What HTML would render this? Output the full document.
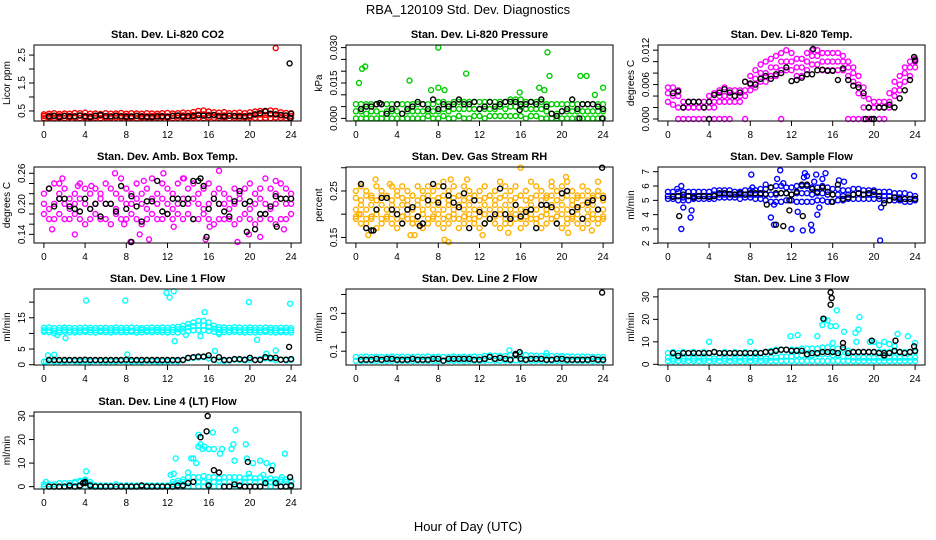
<!DOCTYPE html>
<html><head><meta charset="utf-8"><style>
html,body{margin:0;padding:0;background:#fff;}
svg{display:block;font-family:"Liberation Sans",sans-serif;}
</style></head><body>
<svg id="chart" width="936" height="540" viewBox="0 0 936 540">
<text x="468" y="14" text-anchor="middle" font-size="13">RBA_120109  Std. Dev. Diagnostics</text>
<text x="468" y="531" text-anchor="middle" font-size="13">Hour of Day (UTC)</text>
</svg>
<script>
const H=[0,0.5,1,1.5,2,2.5,3,3.5,4,4.5,5,5.5,6,6.5,7,7.5,8,8.5,9,9.5,10,10.5,11,11.5,12,12.5,13,13.5,14,14.5,15,15.5,16,16.5,17,17.5,18,18.5,19,19.5,20,20.5,21,21.5,22,22.5,23,23.5,24];
const xTicks=[0,4,8,12,16,20,24];

// Panel 1 CO2
const co2Lo=[.24,.25,.23,.25,.24,.26,.25,.24,.25,.23,.25,.24,.25,.24,.26,.25,.24,.25,.23,.25,.24,.25,.24,.26,.25,.24,.25,.26,.24,.25,.25,.24,.26,.25,.24,.25,.23,.25,.24,.25,.26,.25,.24,.25,.24,.26,.25,.24,.25];
const co2Mid=[.32,.33,.31,.32,.33,.32,.31,.33,.32,.31,.32,.33,.32,.31,.33,.32,.32,.31,.33,.32,.31,.32,.33,.32,.31,.33,.32,.34,.33,.35,.37,.38,.36,.34,.33,.34,.33,.32,.33,.32,.34,.36,.37,.36,.38,.37,.34,.33,.32];
const co2Hi=[.38,.40,.42,.39,.41,.40,.43,.42,.44,.40,.41,.39,.42,.40,.41,.43,.40,.42,.41,.40,.42,.41,.40,.42,.43,.41,.42,.44,.43,.46,.50,.52,.48,.45,.44,.46,.42,.43,.44,.42,.45,.48,.50,.48,.52,.50,.45,.43,.42];
const co2Out=[[22.5,2.75]];
const co2Black=[null,.30,.33,.28,.32,.30,.31,.34,.30,.28,.33,.36,.31,.30,.33,.31,.29,.30,.32,.30,.29,.28,.30,.31,.29,.32,.34,.30,.31,.32,.35,.33,.34,.36,.31,.30,.33,.32,.31,.30,.33,.38,.42,.50,.40,.38,.36,.34,.40];
const co2BlackOut=[[23.85,2.2],[23.9,0.25]];

// Panel 2 Pressure
const pLo=[0,0,0,0,0,0,0,0,0,0,0,0,0,0,.001,0,0,.001,0,0,.001,0,0,.001,.001,0,.001,.001,.001,.001,.001,.001,.001,0,.001,.001,0,0,0,0,0,0,0,0,0,0,0,0,0];
const pMid=[.003,.003,.002,.003,.003,.002,.003,.003,.003,.002,.003,.003,.003,.003,.003,.003,.003,.004,.003,.004,.004,.004,.004,.004,.004,.004,.004,.004,.005,.004,.005,.005,.005,.004,.004,.004,.004,.003,.002,.002,.003,.003,.003,.003,.003,.003,.003,.003,.003];
const pHi=[.006,.006,.006,.006,.006,.006,.006,.006,.006,.006,.006,.006,.006,.006,.006,.006,.007,.007,.006,.007,.007,.007,.007,.007,.007,.007,.007,.007,.007,.007,.008,.008,.008,.007,.007,.007,.007,.006,.006,.006,.006,.006,.006,.006,.006,.006,.006,.006,.006];
const pOut=[[0.3,0.015],[0.6,0.021],[0.9,0.022],[5.2,0.016],[7.3,0.012],[8.0,0.030],[8.0,0.013],[8.6,0.012],[10.7,0.019],[15.9,0.011],[17.8,0.013],[18.3,0.012],[18.6,0.028],[18.8,0.018],[21.8,0.018],[22.4,0.018],[23.2,0.010],[24,0.013]];
const pBlack=[null,.004,.005,.005,.006,.006,.002,.004,.006,.002,.004,.005,.007,.006,.004,.008,.004,.006,.005,.006,.008,.006,.006,.007,.004,.005,.007,.005,.006,.007,.007,.007,.006,.006,.007,.006,.008,.005,.002,.001,.003,.004,.008,.004,.006,.006,.006,.005,.004];
const pBlackOut=[[21.7,0],[23.9,0],[2.3,0.0065],[15.9,0.0035]];

// Panel 3 Li-820 Temp
const tMid=[.0045,.004,.004,.002,.002,.002,.002,.002,.003,.003,.004,.004,.004,.004,.004,.005,.006,.007,.008,.008,.009,.009,.010,.010,.010,.009,.009,.010,.011,.011,.010,.010,.010,.010,.010,.009,.008,.006,.004,.002,.002,.002,.002,.003,.005,.006,.008,.009,.010];
const tHi=[.0055,.0055,.005,.003,.003,.003,.003,.003,.004,.0045,.005,.0055,.005,.005,.005,.0065,.0075,.0085,.0095,.010,.0105,.011,.0115,.012,.0115,.0105,.0105,.0115,.012,.012,.0115,.0115,.0115,.0115,.011,.010,.009,.0075,.0055,.0035,.003,.003,.003,.0045,.0065,.0075,.009,.010,.0105];
const tLo=[.003,.0025,.002,.002,.002,.002,.002,.002,.002,.002,.003,.003,.003,.003,.003,.004,.005,.0055,.0065,.0065,.0075,.0075,.0085,.0085,.0085,.0075,.0075,.0085,.0095,.0095,.0085,.0085,.0085,.0085,.0085,.0075,.0065,.0045,.002,.002,.002,.002,.002,.002,.004,.005,.0065,.0075,.009];
const tZero=[null,null,0,0,0,0,0,0,0,0,0,0,0,null,null,0,null,null,null,null,null,null,0,null,null,null,null,null,null,null,null,null,null,null,null,0,0,0,0,0,0,0,0,null,null,null,null,null,null];
const tBlack=[null,.0045,.0048,.002,.003,.003,.003,.002,.003,.0042,.0046,.0052,.0046,.004,.0046,.0065,.0062,.006,.007,.0075,.007,.0078,.008,.009,.0066,.0068,.0072,.0078,.0078,.0085,.0086,.0084,.0084,.0068,.0088,.0068,.0058,.0055,.0045,.002,0,.002,.002,.0025,.002,.0036,.005,.0068,.0102];
const tBlackOut=[[4,0],[19.2,0],[19.8,0],[14.1,0.0122],[23.9,0.0108]];

// Panel 4 Amb box temp
const ambHi=[.22,.23,.24,.22,.23,.21,.22,.24,.23,.22,.23,.22,.24,.23,.22,.25,.23,.22,.24,.22,.23,.25,.22,.24,.23,.22,.24,.25,.23,.24,.22,.23,.24,.22,.23,.22,.21,.23,.22,.23,.24,.22,.23,.25,.23,.22,.24,.23,.22];
const ambMid=[.20,.19,.20,.21,.20,.19,.20,.21,.20,.19,.20,.21,.20,.20,.19,.21,.20,.20,.21,.20,.19,.21,.20,.21,.20,.19,.20,.21,.20,.21,.20,.19,.20,.21,.20,.20,.19,.20,.21,.20,.19,.20,.21,.20,.19,.20,.21,.20,.20];
const ambLo=[.18,.17,.17,.18,.17,.17,.18,.17,.16,.17,.18,.17,.17,.16,.18,.17,.17,.18,.17,.16,.17,.18,.17,.17,.18,.17,.18,.17,.18,.17,.17,.18,.17,.16,.17,.17,.17,.16,.17,.18,.17,.16,.17,.18,.17,.16,.17,.17,.18];
const ambOut=[[0.8,0.15],[1.5,0.24],[1.8,0.25],[3,0.14],[3.3,0.235],[4.6,0.235],[6.9,0.26],[7.8,0.16],[8.4,0.125],[9.3,0.14],[9.7,0.245],[10.2,0.13],[11.6,0.26],[12.6,0.155],[13.6,0.25],[15.7,0.13],[16.1,0.155],[17,0.265],[18.8,0.125],[19.9,0.14],[21,0.135],[22.5,0.245],[23.3,0.15]];
const ambBlack=[null,.23,.195,.21,.21,.195,.19,.185,.21,.19,.20,.175,.20,.20,.185,.235,.19,.215,.195,.165,.205,.205,.245,.185,.18,.21,.21,.20,.21,.17,.245,.235,.19,.21,.20,.185,.175,.205,.225,.20,.205,.15,.18,.18,.195,.215,.21,.21,.21];
const ambBlackOut=[[8.5,0.125],[15.8,0.135],[19.7,0.145],[22.6,0.155],[14.5,0.245],[15.2,0.25]];

// Panel 5 Gas stream RH
const rhHi=[.25,.26,.25,.24,.26,.25,.24,.26,.25,.26,.25,.24,.26,.25,.26,.25,.26,.27,.25,.26,.24,.26,.25,.24,.25,.26,.24,.25,.27,.26,.25,.26,.24,.25,.27,.26,.25,.24,.26,.25,.26,.27,.25,.24,.26,.25,.24,.25,.24];
const rhQ3=[.235,.23,.24,.235,.23,.24,.235,.23,.24,.235,.23,.24,.23,.235,.24,.23,.235,.24,.23,.235,.24,.23,.235,.24,.23,.235,.24,.23,.235,.24,.23,.235,.24,.23,.235,.24,.23,.235,.24,.23,.235,.24,.23,.235,.24,.23,.235,.24,.23];
const rhMid=[.21,.22,.21,.22,.21,.22,.21,.22,.21,.22,.22,.21,.22,.21,.22,.21,.22,.21,.22,.21,.22,.21,.22,.21,.21,.22,.21,.22,.21,.22,.21,.22,.21,.21,.22,.21,.22,.21,.22,.21,.22,.21,.22,.21,.22,.21,.22,.21,.21];
const rhQ1=[.195,.2,.19,.195,.2,.19,.195,.2,.19,.195,.2,.19,.195,.2,.19,.195,.2,.19,.195,.2,.19,.195,.2,.19,.195,.2,.19,.195,.2,.19,.195,.2,.19,.195,.2,.19,.195,.2,.19,.195,.2,.19,.195,.2,.19,.195,.2,.19,.195];
const rhLo=[.19,.18,.18,.19,.17,.18,.19,.18,.17,.18,.19,.18,.18,.17,.18,.19,.18,.17,.18,.19,.17,.18,.19,.18,.17,.18,.19,.18,.17,.18,.18,.19,.17,.18,.19,.18,.17,.18,.19,.18,.17,.18,.19,.18,.17,.18,.19,.18,.19];
const rhOut=[[0.3,0.2],[1.2,0.155],[1.9,0.275],[3.3,0.265],[5.3,0.155],[5.7,0.155],[8.6,0.145],[9.0,0.14],[9.2,0.275],[10.8,0.275],[12.3,0.155],[14.8,0.16],[16.0,0.3],[19.0,0.27],[20.4,0.28],[20.6,0.16],[22.9,0.165],[23.5,0.27]];
const rhBlack=[null,.265,.17,.165,.21,.235,.235,.21,.2,.18,.21,.215,.195,.18,.23,.265,.225,.26,.24,.225,.215,.245,.17,.23,.205,.18,.19,.2,.255,.2,.19,.22,.195,.205,.21,.17,.22,.22,.215,.18,.245,.25,.205,.215,.19,.225,.23,.21,.235];
const rhBlackOut=[[23.9,0.30],[1.7,0.165],[6.2,0.175]];

// Panel 6 Sample flow
const sfHi=[5.6,5.6,5.6,5.6,5.6,5.6,5.6,5.6,5.6,5.7,5.7,5.7,5.7,5.6,5.6,5.7,5.7,5.7,5.8,5.8,5.9,6.0,6.0,5.9,5.9,6.0,6.0,6.0,5.9,5.9,6.0,5.9,5.8,5.8,5.7,5.7,5.8,5.8,5.7,5.7,5.7,5.6,5.6,5.6,5.5,5.5,5.5,5.4,5.3];
const sfMid=[5.3,5.3,5.3,5.2,5.3,5.3,5.3,5.3,5.3,5.4,5.4,5.4,5.4,5.4,5.4,5.4,5.4,5.4,5.4,5.4,5.4,5.4,5.5,5.5,5.4,5.5,5.5,5.5,5.4,5.5,5.5,5.4,5.4,5.4,5.3,5.4,5.4,5.5,5.4,5.4,5.4,5.3,5.3,5.3,5.2,5.2,5.1,5.1,5.1];
const sfLo=[5.1,5.1,5.0,5.0,5.0,5.1,5.1,5.1,5.1,5.1,5.2,5.2,5.2,5.2,5.1,5.2,5.2,5.1,5.1,5.0,4.9,4.9,4.9,5.0,5.0,4.9,4.9,4.9,4.9,5.0,5.0,4.9,4.9,5.0,5.0,5.1,5.1,5.1,5.1,5.1,5.1,5.1,5.0,5.0,5.0,5.0,4.9,4.9,5.0];
const sfOut=[[0.9,5.8],[1.3,6.0],[1.3,3.0],[1.5,4.5],[2.2,3.8],[2.3,4.3],[8.1,6.8],[8.2,5.9],[9.5,6.1],[10,3.8],[10.3,4.7],[10.3,3.3],[10.6,6.5],[10.9,7.1],[11.2,6.2],[12,3.0],[12.6,4.2],[13.1,2.9],[13.2,6.6],[13.3,6.9],[13.5,6.7],[13.9,3.3],[14,2.9],[14.2,6.3],[14.4,6.8],[14.5,4.0],[14.7,4.5],[15,6.5],[15.3,6.9],[16.6,6.4],[17.1,6.3],[20.6,2.2],[20.7,4.5],[23.9,6.7]];
const sfBlack=[null,5.25,5.3,5.4,5.3,5.2,5.3,5.3,5.25,5.3,5.5,5.5,5.45,5.4,5.5,5.4,5.5,5.5,5.5,5.45,5.9,5.5,5.5,5.5,5.4,5.6,6.1,6.1,5.8,5.6,5.9,5.6,5.4,6.1,5.1,5.2,5.4,5.5,5.4,5.5,5.6,5.3,4.8,5.0,5.2,5.1,5.1,5.1,5.1];
const sfBlackOut=[[1.1,3.9],[9.6,4.7],[10.5,3.3],[11.2,3.2],[11.8,4.3],[13.1,3.9],[11.8,5.0],[15.9,4.9]];

// Panel 7 Line 1 flow
const l1Hi=[11.8,11.9,11.7,11.8,11.9,11.8,11.7,11.8,11.9,11.8,11.7,11.8,11.8,11.7,11.9,11.8,11.8,11.9,11.8,11.7,11.8,11.9,11.8,11.9,11.8,12.0,12.1,12.5,13.0,13.5,14.0,14.0,13.5,12.5,12.0,11.9,11.8,12.0,11.9,11.8,11.9,11.8,11.8,11.9,11.8,11.7,11.8,11.8,11.7];
const l1Mid=[11.0,11.0,10.9,11.0,11.1,11.0,10.9,11.0,11.0,11.1,11.0,10.9,11.0,11.0,11.1,11.0,11.0,10.9,11.0,11.1,11.0,11.0,11.1,11.0,11.0,11.2,11.3,11.5,12.0,12.3,12.5,12.5,12.0,11.5,11.2,11.1,11.0,11.1,11.0,11.0,11.1,11.0,11.0,11.0,11.1,11.0,10.9,11.0,11.0];
const l1Lo=[10.5,10.4,10.0,10.3,10.5,10.4,10.3,10.4,10.5,10.4,10.3,10.5,10.4,10.3,10.5,10.4,10.4,10.5,10.3,10.4,10.5,10.4,10.5,10.4,10.3,10.4,10.3,10.5,10.7,11.0,11.0,11.0,10.8,10.5,10.3,10.4,10.4,10.5,10.4,10.3,10.4,10.3,10.4,10.5,10.4,10.3,10.4,10.4,10.3];
const l1Base=[1.0,1.2,1.0,1.1,1.0,1.2,1.1,1.0,1.1,1.0,1.2,1.1,1.0,1.1,1.0,1.2,1.1,1.0,1.1,1.0,1.2,1.1,1.0,1.1,1.0,1.2,1.1,1.5,2.0,2.2,2.3,2.5,2.0,1.5,1.3,1.2,1.4,1.6,1.5,1.4,1.6,1.5,1.8,2.0,1.8,1.5,1.6,1.4,1.5];
const l1Out=[[0.2,1],[0.4,3],[1,3.2],[1.3,9.5],[2.1,8.5],[4.1,20.5],[7.9,20.5],[8.1,3.3],[11.9,23],[12.2,21.5],[12.6,23.5],[12.7,7.5],[13.8,9.5],[15.2,9.1],[15.6,16.8],[16.6,4.4],[17,9.8],[19.9,20],[20.7,8],[21.6,3.5],[22.5,4.5],[23.9,19.5]];
const l1Black=[null,1.5,1.5,1.5,1.5,1.5,1.5,1.5,1.6,1.5,1.5,1.5,1.5,1.5,1.5,1.5,1.6,1.5,1.5,1.5,1.5,1.5,1.5,1.5,1.5,1.5,1.5,1.5,2.2,2.4,2.6,2.6,3.0,1.6,2.4,1.5,1.5,1.8,1.8,1.6,2.2,1.5,1.5,2.4,2.2,2.2,1.6,1.6,1.8];
const l1BlackOut=[[23.8,5.7]];

// Panel 8 Line 2 flow
const l2Hi=[.07,.07,.072,.07,.071,.07,.07,.072,.07,.071,.07,.07,.071,.07,.072,.07,.071,.07,.07,.072,.07,.071,.07,.072,.07,.075,.078,.076,.075,.074,.08,.082,.085,.08,.078,.076,.075,.074,.075,.074,.073,.072,.072,.071,.072,.071,.07,.07,.07];
const l2Lo=[.05,.048,.05,.05,.049,.05,.048,.05,.05,.049,.05,.048,.05,.05,.049,.05,.048,.05,.05,.049,.05,.048,.05,.05,.049,.05,.052,.05,.05,.051,.05,.052,.05,.051,.05,.05,.049,.05,.05,.049,.05,.048,.05,.05,.049,.05,.048,.05,.05];
const l2Out=[[14.9,0.105],[18.5,0.09],[20,0.075]];
const l2Black=[null,.055,.055,.055,.06,.055,.06,.06,.055,.055,.055,.06,.055,.055,.055,.06,.06,.05,.06,.06,.06,.06,.06,.055,.055,.06,.07,.06,.065,.06,.055,.08,.06,.055,.06,.06,.06,.055,.055,.06,.06,.055,.055,.055,.055,.055,.06,.055,.055];
const l2BlackOut=[[23.9,0.41],[15.9,0.095],[15.5,0.085]];

// Panel 9 Line 3 flow
const l3Base=[1.5,1.5,1.5,1.5,1.5,1.5,1.5,1.5,1.5,1.5,1.5,1.5,1.5,1.5,1.5,1.5,1.5,1.5,1.5,1.5,1.5,1.5,1.5,1.5,1.5,1.5,1.5,1.5,1.5,1.5,1.5,1.5,1.5,1.5,1.5,1.5,1.5,1.5,1.5,1.5,1.5,1.5,1.5,1.5,1.5,1.5,1.5,1.5,1.5];
const l3Row2=[3,2.5,3,2.5,3,2.5,3,2.5,3,2.5,3,2.5,3,2.5,3,2.5,3,2.5,3,2.5,3,3,3.5,3.5,3.5,4,4,4,4,4.5,4.5,4.5,4,4,3.5,3.5,3,3,3,3,3,3,3,3,3,3,3,3,3];
const l3Row3=[5,5.5,5,5.5,5,5.5,5,5.5,5,5.5,5,5.5,5,5.5,5,5.5,5,5.5,5,5.5,6,6.5,6.5,6.5,6.5,6.5,7,7,7,7,7.5,7.5,7,7,6.5,6,5.5,5.5,5.5,5.5,5.5,5.5,5.5,5.5,5.5,5.5,5.5,5.5,5.5];
const l3Out=[[4,10],[8,10],[11.9,12.5],[12.6,13],[14.5,12.5],[15,17.5],[15.2,20],[15.5,19.5],[15.8,17],[16,9.5],[16.3,17],[16.4,24],[17.1,14.5],[18.2,14],[18.5,15.5],[18.6,21],[18.3,10],[19.6,10],[20,10],[20.5,8.5],[21,10],[21.5,9],[22,8],[22.3,13.5],[23.3,12.5],[24,9.5]];
const l3Black=[null,5,3.8,5,5,5,5,5,5,5.5,5,5,5,5,5,5,5,5,5,5.5,5.5,6,6.5,6.5,6,6,6,4.5,5,5,5.5,5.5,5.5,5,7.5,5,5.5,5.5,5.5,5.5,5.5,5,5,5,6,5.5,5,5.5,6];
const l3BlackOut=[[15.8,32],[15.9,29.5],[15.8,26.5],[15.1,20.3],[17,9.5],[19.8,10.5],[22.1,10.5],[23.9,8],[21,4]];

// Panel 10 Line 4 (LT) flow
const l4Row1=[0,0,0,0,0,0,0,0,0,0,0,0,0,0,0,0,0,0,0,0,0,0,0,0,0,0,0,0,0,0,0,0,0,0,0,0,0,0,0,0,0,0,0,0,0,0,0,0,0];
const l4Row2=[1,1,1,1.5,1.5,1.5,1.5,2,2.5,1,0.5,0.5,0.5,0.5,1,0.5,0.5,0.5,0.5,0.5,0.5,0.5,0.5,0.5,0.5,1,1.5,2,2,2,2,2,2,2,2,2,2,2,2,2,2,2,2,2,2,2,2,2,2];
const l4Row3=[null,null,null,null,null,null,2,2.5,3,2,null,null,null,null,null,null,null,null,null,null,null,null,null,null,null,2,2.5,3,4,4,4,4.5,4,4,3.5,4,4,4,4,3.5,4,3.5,4,3,3.5,3,3,3,2.5];
const l4Out=[[0.2,2],[4.1,6.5],[12.8,12],[12.3,5],[12.6,5.5],[14,6],[14.3,12],[14.5,12],[14.8,10],[15,17],[15,22],[15.2,18],[15.4,16],[15.6,17],[16,16],[16.4,23],[16.5,16],[17.1,14],[17.3,16],[18.2,16],[18.4,18],[18.6,24],[18.5,11],[19.6,18],[19.7,12],[19.9,5.5],[20.3,10],[21,11],[21.3,5],[21.6,10],[22.2,9],[23.1,4],[23.4,14],[15.9,1]];
const l4Black=[null,0,0,0,0,0.5,0,0.5,1.5,0.5,0,0,0,0,0,0,0,0,0,0.5,0,0,0,0,0,0,0.5,0.5,1.5,2,null,null,0.5,null,null,0,0,1,0.5,0,0,0,0,1.5,null,1.5,0,0,0.5];
const l4BlackOut=[[15.9,30],[15.8,23.5],[15.2,21],[16.5,7],[17,6],[19.8,10.5],[22.1,7],[23.9,4],[3.8,1.5],[4,2]];

const svg=document.getElementById('chart');
const NS='http://www.w3.org/2000/svg';
function mk(tag,attrs,parent){const e=document.createElementNS(NS,tag);for(const k in attrs)e.setAttribute(k,attrs[k]);(parent||svg).appendChild(e);return e;}

const colL=[34,346,658], rowT=[45,167,289,412], PW=267, PH=76;
const panels=[
 {title:'Stan. Dev. Li-820 CO2',yl:'Licor ppm',c:0,r:0,y0:0.14,y1:2.86,ticks:[0.5,1,1.5,2,2.5],labels:[0.5,1.5,2.5],lf:v=>v.toFixed(1),col:'#ff0000',rows:[co2Lo,co2Mid,co2Hi],out:co2Out,blk:co2Black,bo:co2BlackOut},
 {title:'Stan. Dev. Li-820 Pressure',yl:'kPa',c:1,r:0,y0:-0.0011,y1:0.0311,ticks:[0,0.005,0.01,0.015,0.02,0.025,0.03],labels:[0,0.015,0.03],lf:v=>v.toFixed(3),col:'#00cc00',rows:[pLo,pMid,pHi],out:pOut,blk:pBlack,bo:pBlackOut},
 {title:'Stan. Dev. Li-820 Temp.',yl:'degrees C',c:2,r:0,y0:-0.00035,y1:0.0129,ticks:[0,0.002,0.004,0.006,0.008,0.01,0.012],labels:[0,0.006,0.012],lf:v=>v.toFixed(3),col:'#ff00ff',rows:[tLo,tMid,tHi,tZero],out:[],blk:tBlack,bo:tBlackOut},
 {title:'Stan. Dev. Amb. Box Temp.',yl:'degrees C',c:0,r:1,y0:0.123,y1:0.2724,ticks:[0.14,0.16,0.18,0.2,0.22,0.24,0.26],labels:[0.14,0.2,0.26],lf:v=>v.toFixed(2),col:'#ff00ff',rows:[ambLo,ambMid,ambHi],out:ambOut,blk:ambBlack,bo:ambBlackOut},
 {title:'Stan. Dev. Gas Stream RH',yl:'percent',c:1,r:1,y0:0.138,y1:0.3016,ticks:[0.15,0.2,0.25,0.3],labels:[0.15,0.25],lf:v=>v.toFixed(2),col:'#ffb000',rows:[rhLo,rhQ1,rhMid,rhQ3,rhHi],out:rhOut,blk:rhBlack,bo:rhBlackOut},
 {title:'Stan. Dev. Sample Flow',yl:'ml/min',c:2,r:1,y0:2.02,y1:7.33,ticks:[2,3,4,5,6,7],labels:[2,3,4,5,6,7],lf:v=>String(v),col:'#0000ff',rows:[sfLo,sfMid,sfHi],out:sfOut,blk:sfBlack,bo:sfBlackOut},
 {title:'Stan. Dev. Line 1 Flow',yl:'ml/min',c:0,r:2,y0:-0.1,y1:24.2,ticks:[0,5,10,15,20],labels:[0,5,15],lf:v=>String(v),col:'#00ffff',rows:[l1Base,l1Lo,l1Mid,l1Hi],out:l1Out,blk:l1Black,bo:l1BlackOut},
 {title:'Stan. Dev. Line 2 Flow',yl:'ml/min',c:1,r:2,y0:0.027,y1:0.429,ticks:[0.1,0.2,0.3,0.4],labels:[0.1,0.3],lf:v=>v.toFixed(1),col:'#00ffff',rows:[l2Lo,l2Hi],out:l2Out,blk:l2Black,bo:l2BlackOut},
 {title:'Stan. Dev. Line 3 Flow',yl:'ml/min',c:2,r:2,y0:-0.3,y1:33.5,ticks:[0,10,20,30],labels:[0,10,20,30],lf:v=>String(v),col:'#00ffff',rows:[l3Base,l3Row2,l3Row3],out:l3Out,blk:l3Black,bo:l3BlackOut},
 {title:'Stan. Dev. Line 4 (LT) Flow',yl:'ml/min',c:0,r:3,y0:-1,y1:31.7,ticks:[0,10,20,30],labels:[0,10,20,30],lf:v=>String(v),col:'#00ffff',rows:[l4Row1,l4Row2,l4Row3],out:l4Out,blk:l4Black,bo:l4BlackOut}
];

panels.forEach((p,pi)=>{
 const L=colL[p.c], T=rowT[p.r], B=T+PH+(p.r===3?1:0);
 const xs=t=>L+(t+0.96)/25.92*PW;
 const ys=v=>B-(v-p.y0)/(p.y1-p.y0)*(B-T);
 const g=mk('g',{});
 
 
 const tt=mk('text',{x:L+PW/2,y:T-7,'text-anchor':'middle','font-size':'11','font-weight':'bold'},g);
 tt.textContent=p.title;
 
 
 const pts=mk('g',{fill:'none','stroke-width':'1.4'},g);
 
 
 function dot(t,v,color){
   if(v===null||v===undefined||t===undefined) return;
   const y=ys(v); if(y<T-2||y>B+2) return;
   const c=mk('circle',{cx:xs(t).toFixed(1),cy:y.toFixed(1),r:'2.5',stroke:color},pts);
   
   
 }
 p.rows.forEach(arr=>arr.forEach((v,i)=>dot(H[i],v,p.col)));
 p.out.forEach(o=>dot(o[0],o[1],p.col));
 p.blk.forEach((v,i)=>dot(H[i],v,'#000'));
 p.bo.forEach(o=>dot(o[0],o[1],'#000'));
 const box=mk('rect',{x:L,y:T,width:PW,height:B-T,fill:'none',stroke:'#000','stroke-width':'1'},g);
 
 
 // x axis
 const xa=mk('g',{stroke:'#000','stroke-width':'1'},g);
 
 
 mk('line',{x1:xs(xTicks[0]),x2:xs(xTicks[xTicks.length-1]),y1:B,y2:B},xa);
 xTicks.forEach(t=>{
   mk('line',{x1:xs(t),x2:xs(t),y1:B,y2:B+5},xa);
   const lb=mk('text',{x:xs(t),y:B+17,'text-anchor':'middle','font-size':'10',stroke:'none',fill:'#000'},g);
   lb.textContent=t;
   
   
 });
 // y axis
 const ya=mk('g',{stroke:'#000','stroke-width':'1'},g);
 
 
 mk('line',{x1:L,x2:L,y1:ys(p.ticks[0]),y2:ys(p.ticks[p.ticks.length-1])},ya);
 p.ticks.forEach(v=>mk('line',{x1:L-5,x2:L,y1:ys(v),y2:ys(v)},ya));
 p.labels.forEach(v=>{
   const yy=ys(v), xx=L-9;
   const lb=mk('text',{x:xx,y:yy,'text-anchor':'middle','font-size':'10',transform:'rotate(-90 '+xx+' '+yy+')'},g);
   lb.textContent=p.lf(v);
   
   
 });
 const yx=L-24, yy=(T+B)/2;
 const yt=mk('text',{x:yx,y:yy,'text-anchor':'middle','font-size':'10',transform:'rotate(-90 '+yx+' '+yy+')'},g);
 yt.textContent=p.yl;
 
 
});
</script>
</body></html>
